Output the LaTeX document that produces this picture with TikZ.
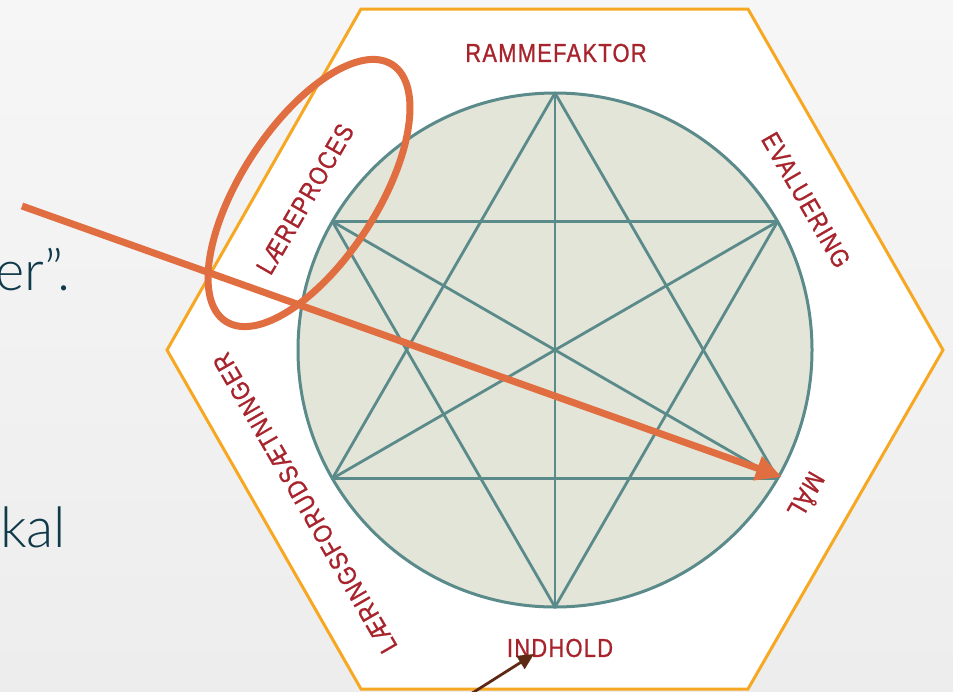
\documentclass[tikz,border=0pt]{standalone}
\usepackage{fontspec}
\setmainfont{Liberation Sans}
\newfontfamily\labelfont{Liberation Sans}[FakeStretch=0.84, LetterSpace=5, FakeBold=0.9]
\newfontfamily\slidefont{Lato}[UprightFont=* Light]
\usetikzlibrary{arrows.meta,shapes.geometric}
\definecolor{bgtop}{RGB}{246,246,246}
\definecolor{bgbot}{RGB}{237,237,237}
\definecolor{hexline}{RGB}{247,168,35}
\definecolor{starteal}{RGB}{90,138,138}
\definecolor{circfill}{RGB}{227,229,216}
\definecolor{lblred}{RGB}{168,36,44}
\definecolor{markorange}{RGB}{224,110,64}
\definecolor{arrbrown}{RGB}{95,42,20}
\definecolor{slidetext}{RGB}{16,58,74}
\begin{document}
\begin{tikzpicture}[x=1pt,y=-1pt,
  lbl/.style={text=lblred, font=\labelfont\fontsize{26}{26}\selectfont, inner sep=0pt},
  starline/.style={draw=starteal, line width=2.8pt, line join=round},
  slidetxt/.style={anchor=base west, text=slidetext, font=\slidefont\fontsize{56}{56}\selectfont, inner sep=0pt},
  markline/.style={draw=markorange, line width=7pt}]
\useasboundingbox (0,0) rectangle (953,691);
\shade[top color=bgtop, bottom color=bgbot] (0,0) rectangle (953,691);

% slide text behind
\node[slidetxt] (t1) at (-5,290) {er”.};
\node[slidetxt] (t2) at (0,547) {kal};

% hexagon
\coordinate (hTL) at (361,9);
\coordinate (hTR) at (748,9);
\coordinate (hR) at (943,350);
\coordinate (hBR) at (748,689);
\coordinate (hBL) at (361,689);
\coordinate (hL) at (167,350);
\filldraw[fill=white, draw=hexline, line width=3pt, line join=miter] (hTL) -- (hTR) -- (hR) -- (hBR) -- (hBL) -- (hL) -- cycle;

% circle
\node[circle, draw=starteal, fill=circfill, line width=3pt, minimum size=514pt, inner sep=0pt] (circ) at (555,350) {};

% star vertices
\coordinate (vT) at (555,93);
\coordinate (vB) at (555,607);
\coordinate (vUL) at (332.4,221.5);
\coordinate (vUR) at (777.6,221.5);
\coordinate (vLL) at (332.4,478.5);
\coordinate (vLR) at (777.6,478.5);
\draw[starline] (vT) -- (vLL) -- (vLR) -- cycle;
\draw[starline] (vB) -- (vUL) -- (vUR) -- cycle;
\draw[starline] (vT) -- (vB);
\draw[starline] (vUL) -- (vLR);
\draw[starline] (vUR) -- (vLL);

% labels
\node[lbl] (rf) at (556,53) {RAMMEFAKTOR};
\node[lbl, rotate=-60] (ev) at (806,200) {EVALUERING};
\node[lbl, rotate=240] (ml) at (808,496) {MÅL};
\node[lbl] (ih) at (560,648) {INDHOLD};
\node[lbl, rotate=120] (lf) at (305,503) {LÆRINGSFORUDSÆTNINGER};
\node[lbl, rotate=60] (lp) at (305,199) {LÆREPROCES};

% orange marks
\node[markline, ellipse, minimum width=306pt, minimum height=136pt, inner sep=0pt, rotate=57] (ell) at (309,193) {};
\coordinate (arrS) at (22,206);
\coordinate (arrE) at (782,477);
\draw[markline, -{Triangle[length=26pt,width=24pt]}] (arrS) -- (arrE);

% brown arrow
\coordinate (brS) at (466,697);
\coordinate (brE) at (534,654);
\draw[arrbrown, line width=2.8pt, -{Triangle[length=16pt,width=15pt]}] (brS) -- (brE);
\end{tikzpicture}
\end{document}
